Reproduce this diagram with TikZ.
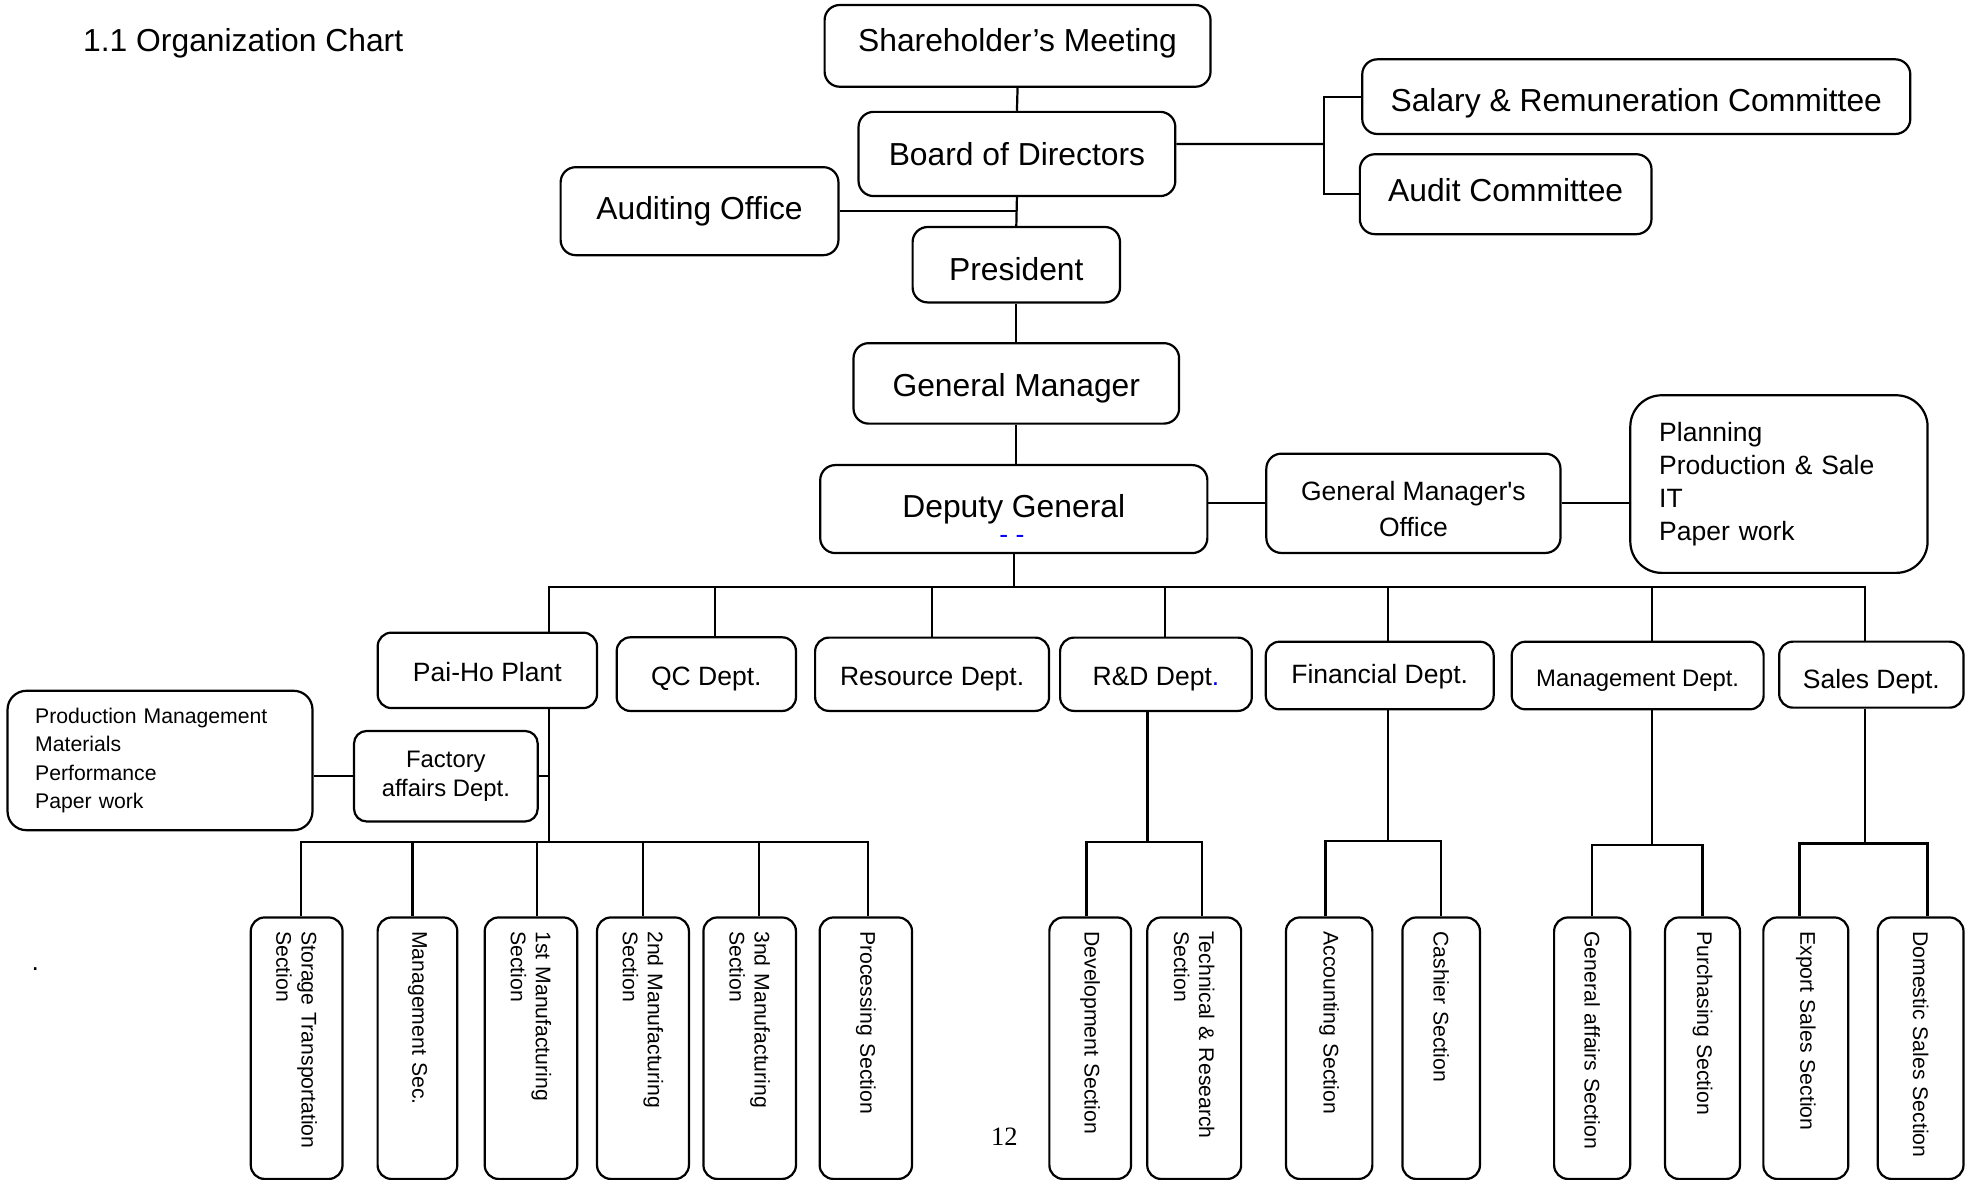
\documentclass[tikz,border=0pt]{standalone}
\usepackage{fontspec}
\setmainfont{Liberation Sans}
\newfontfamily\pagefont{Liberation Serif}
\usepackage{tikz}

\begin{document}
\begin{tikzpicture}[
    box/.style={rectangle, draw=black, line width=0.5pt, rounded corners=1.2mm, inner sep=0pt, align=center, font=\fontsize{7.2}{8.6}\selectfont},
    deptbox/.style={box, rounded corners=1.1mm, text height=5.2pt, text depth=0pt, font=\fontsize{6}{7.2}\selectfont},
    listbox/.style={rectangle, draw=black, line width=0.5pt, align=left, inner ysep=0pt},
    secbox/.style={rectangle, draw=black, line width=0.5pt, rounded corners=1.1mm, rotate=-90, anchor=west, text width=1.86cm, inner xsep=0.11cm, inner ysep=0pt, align=left, font=\fontsize{4.8}{5.7}\selectfont},
    link/.style={line width=0.5pt}
]
\useasboundingbox (0,0) rectangle (15.68,9.38);

% Title
\node[anchor=base west, inner sep=0pt, font=\fontsize{7.2}{8.6}\selectfont] (title) at (0.655, 8.97) {1.1 Organization Chart};

% Top chain
\node[box, minimum width=3.07cm, minimum height=0.65cm] (sh) at (8.095, 9.015) {\raisebox{0.02cm}[\height][\depth]{Shareholder's Meeting}};
\node[box, minimum width=2.52cm, minimum height=0.67cm] (bod) at (8.09, 8.155) {Board of Directors};
\node[box, minimum width=2.21cm, minimum height=0.70cm] (aud) at (5.565, 7.70) {Auditing Office};
\node[box, minimum width=1.65cm, minimum height=0.60cm] (pres) at (8.085, 7.274) {\raisebox{-0.037cm}[\height][\depth]{President}};
\node[box, minimum width=2.59cm, minimum height=0.64cm] (gm) at (8.085, 6.33) {\raisebox{-0.035cm}[\height][\depth]{General Manager}};
\node[box, minimum width=3.08cm, minimum height=0.70cm] (dg) at (8.065, 5.33) {Deputy General};
\node[font=\fontsize{6}{7}\selectfont, text=blue] (dgmark) at (8.05, 5.09) {- -};

% Committees
\node[box, minimum width=4.36cm, minimum height=0.594cm] (sal) at (13.017, 8.611) {\raisebox{-0.05cm}[\height][\depth]{Salary \& Remuneration Committee}};
\node[box, minimum width=2.32cm, minimum height=0.636cm] (ac) at (11.978, 7.835) {\raisebox{0.03cm}[\height][\depth]{Audit Committee}};

% Office
\node[box, minimum width=2.34cm, minimum height=0.79cm, font=\fontsize{6}{8.2}\selectfont] (gmo) at (11.244, 5.376) {\raisebox{-0.065cm}[\height][\depth]{\begin{tabular}{@{}c@{}}General Manager\textquotesingle s\\Office\end{tabular}}};
\node[listbox, rounded corners=2.5mm, text width=1.905cm, inner xsep=0.23cm, minimum height=1.413cm, font=\fontsize{6}{7.5}\selectfont] (plan) at (14.152, 5.529) {Planning\\Production \& Sale\\IT\\Paper work};

% Departments
\node[deptbox, minimum width=1.745cm, minimum height=0.60cm, text height=4.9pt] (paiho) at (3.877, 4.047) {Pai-Ho Plant};
\node[deptbox, minimum width=1.426cm, minimum height=0.586cm] (qc) at (5.619, 4.017) {QC Dept.};
\node[deptbox, minimum width=1.861cm, minimum height=0.583cm] (res) at (7.415, 4.016) {Resource Dept.};
\node[deptbox, minimum width=1.525cm, minimum height=0.583cm, text height=5.3pt] (rd) at (9.196, 4.016) {R\&D Dept\textcolor{blue}{.}};
\node[deptbox, minimum width=1.813cm, minimum height=0.538cm, text height=3.4pt] (fin) at (10.976, 4.006) {Financial Dept.};
\node[deptbox, minimum width=2.004cm, minimum height=0.538cm, text height=4.8pt, font=\fontsize{5.4}{6.5}\selectfont] (mgt) at (13.028, 4.006) {Management Dept.};
\node[deptbox, minimum width=1.467cm, minimum height=0.525cm, text height=6.5pt] (sales) at (14.887, 4.013) {Sales Dept.};

% Factory affairs
\node[box, minimum width=1.461cm, minimum height=0.72cm, rounded corners=1mm, font=\fontsize{5.4}{6.5}\selectfont] (fad) at (3.547, 3.205) {Factory\\affairs Dept.};
\node[listbox, rounded corners=1.5mm, text width=1.986cm, inner xsep=0.22cm, minimum height=1.109cm, font=\fontsize{4.8}{6.4}\selectfont] (prod) at (1.273, 3.33) {Production Management\\Materials\\Performance\\Paper work};

% Sections
\node[secbox, minimum height=0.73cm] (st) at (2.36, 2.09) {Storage Transportation\\Section};
\node[secbox, minimum height=0.634cm] (ms) at (3.321, 2.09) {Management Sec.};
\node[secbox, minimum height=0.736cm] (m1) at (4.224, 2.09) {1st Manufacturing\\Section};
\node[secbox, minimum height=0.731cm] (m2) at (5.115, 2.09) {2nd Manufacturing\\Section};
\node[secbox, minimum height=0.736cm] (m3) at (5.964, 2.09) {3nd Manufacturing\\Section};
\node[secbox, minimum height=0.735cm] (proc) at (6.888, 2.09) {Processing Section};
\node[secbox, minimum height=0.65cm] (dev) at (8.673, 2.09) {Development Section};
\node[secbox, minimum height=0.747cm] (tech) at (9.50, 2.09) {Technical \& Research\\Section};
\node[secbox, minimum height=0.687cm] (acc) at (10.574, 2.09) {Accounting Section};
\node[secbox, minimum height=0.617cm] (cash) at (11.465, 2.09) {Cashier Section};
\node[secbox, minimum height=0.605cm] (ga) at (12.666, 2.09) {General affairs Section};
\node[secbox, minimum height=0.596cm] (pur) at (13.544, 2.09) {Purchasing Section};
\node[secbox, minimum height=0.676cm] (exp) at (14.366, 2.09) {Export Sales Section};
\node[secbox, minimum height=0.682cm] (dom) at (15.279, 2.09) {Domestic Sales Section};

% Stray marks
\node[anchor=base, font=\fontsize{6}{7}\selectfont] (dot) at (0.28, 1.66) {.};
\node[anchor=base, font=\pagefont\fontsize{6}{7}\selectfont] (pagenum) at (7.99, 0.27) {12};

% Lines of the top chain
\draw[link] (sh.south) -- (bod.north);
\draw[link] (bod.south) -- (pres.north);
\draw[link] (aud.east) -- (aud.east -| pres.north);
\draw[link] (pres.south) -- (gm.north);
\draw[link] (gm.south) -- (gm.south |- dg.north);

% Lines to committees
\coordinate (cJ) at (10.53, 8.235);
\draw[link] ([yshift=0.08cm]bod.east) -- (cJ);
\draw[link] (sal.west) -| (cJ) |- (ac.west);

% Lines to office
\draw[link] (dg.east |- gmo.west) -- (gmo.west);
\draw[link] (gmo.east) -- (gmo.east -| plan.west);

% Main bus
\coordinate (busW) at (4.37, 4.71);
\coordinate (busE) at (14.837, 4.71);
\draw[link] (dg.south) -- (dg.south |- busW);
\draw[link] (busW |- paiho.north) -- (busW) -- (busE) -- (busE |- sales.north);
\draw[link] ([xshift=0.07cm]qc.north) |- (busW);
\draw[link] (res.north) |- (busW);
\draw[link] ([xshift=0.07cm]rd.north) |- (busW);
\draw[link] ([xshift=0.065cm]fin.north) |- (busW);
\draw[link] ([xshift=0.115cm]mgt.north) |- (busW);

% Pai-Ho Plant
\coordinate (pJ) at (4.37, 2.68);
\draw[link] (paiho.south -| pJ) -- (pJ);
\draw[link] (fad.east) -- (fad.east -| pJ);
\draw[link] (prod.east |- fad.west) -- (fad.west);
\draw[link] ([xshift=0.035cm]st.west) |- (pJ) -| ([xshift=0.02cm]proc.west);
\draw[link] ([xshift=-0.04cm]ms.west) |- (pJ);
\draw[link] ([xshift=0.045cm]m1.west) |- (pJ);
\draw[link] (m2.west) |- (pJ);
\draw[link] ([xshift=0.075cm]m3.west) |- (pJ);

% R&D
\coordinate (rdJ) at (9.128, 2.68);
\draw[link] (rd.south -| rdJ) -- (rdJ);
\draw[link] ([xshift=-0.03cm]dev.west) |- (rdJ) -| ([xshift=0.06cm]tech.west);

% Financial
\coordinate (finJ) at (11.04, 2.69);
\draw[link] (fin.south -| finJ) -- (finJ);
\draw[link] ([xshift=-0.03cm]acc.west) |- (finJ) -| (cash.west);

% Management
\coordinate (mgtJ) at (13.143, 2.66);
\draw[link] (mgt.south -| mgtJ) -- (mgtJ);
\draw[link] (ga.west) |- (mgtJ) -| (pur.west);

% Sales
\coordinate (salesJ) at (14.837, 2.67);
\draw[link] (sales.south -| salesJ) -- (salesJ);
\draw[link] ([xshift=-0.05cm]exp.west) |- (salesJ) -| ([xshift=0.055cm]dom.west);

\end{tikzpicture}
\end{document}
